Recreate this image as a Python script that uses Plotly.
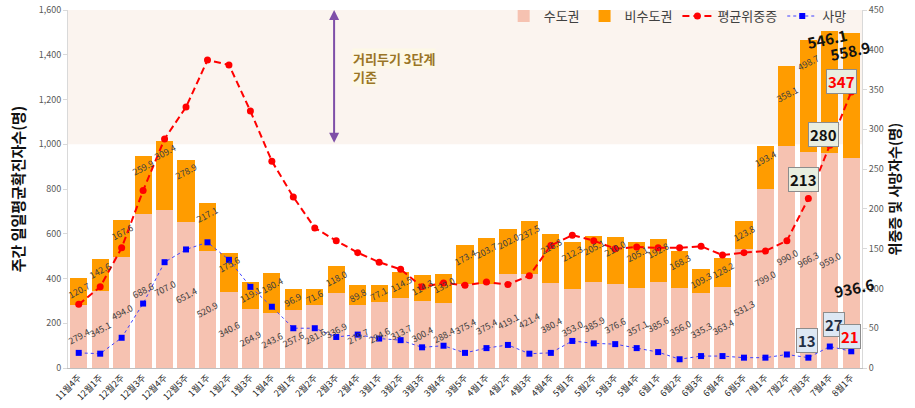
import plotly.graph_objects as go

weeks = ["11월4주", "12월1주", "12월2주", "12월3주", "12월4주", "12월5주",
         "1월1주", "1월2주", "1월3주", "1월4주",
         "2월1주", "2월2주", "2월3주", "2월4주",
         "3월1주", "3월2주", "3월3주", "3월4주", "3월5주",
         "4월1주", "4월2주", "4월3주", "4월4주",
         "5월1주", "5월2주", "5월3주", "5월4주",
         "6월1주", "6월2주", "6월3주", "6월4주", "6월5주",
         "7월1주", "7월2주", "7월3주", "7월4주", "8월1주"]

capital = [279.4, 345.1, 494.0, 688.6, 707.0, 651.4, 520.9, 340.6, 264.9, 243.6,
           257.6, 281.6, 336.9, 279.7, 294.6, 313.7, 300.4, 288.4, 375.4,
           375.4, 419.1, 421.4, 380.4, 353.0, 385.9, 376.6, 357.1,
           385.6, 356.0, 335.3, 363.4, 531.3, 799.0, 990.0, 966.3, 959.0, 936.6]

non_capital = [120.7, 142.6, 167.6, 259.9, 309.4, 278.9, 217.1, 175.6, 119.1, 180.4,
               96.9, 71.6, 118.0, 89.8, 77.1, 114.5, 114.3, 133.0, 173.4,
               203.7, 202.0, 237.5, 216.8, 212.3, 205.1, 210.0, 205.1,
               192.8, 168.3, 109.3, 128.2, 123.8, 193.4, 358.1, 498.7, 546.1, 558.9]

severe = [80, 102, 151, 223, 288, 328, 387, 381, 323, 260, 215, 176, 160, 145,
          133, 124, 102, 107, 104, 108, 105, 116, 154, 167, 160, 150, 152,
          151, 151, 153, 142, 145, 147, 160, 213, 280, 347]

deaths = [19, 18, 38, 81, 133, 149, 158, 136, 102, 77, 50, 50, 39, 42,
          37, 35, 26, 28, 19, 25, 29, 18, 19, 34, 31, 30, 25, 20,
          11, 15, 15, 13, 13, 17, 13, 27, 21]

FONT = "Noto Sans CJK KR"
PINK = "#F6C2B1"
ORANGE = "#FF9C00"

fig = go.Figure()

fig.add_trace(go.Bar(x=weeks, y=capital, name="수도권", marker_color=PINK,
                     marker_line_width=0, yaxis="y"))
fig.add_trace(go.Bar(x=weeks, y=non_capital, name="비수도권", marker_color=ORANGE,
                     marker_line_width=0, yaxis="y"))
fig.add_trace(go.Scatter(x=weeks, y=severe, name="평균위중증", mode="lines+markers",
                         line=dict(color="#FF0000", width=2, dash="7px,4px"),
                         marker=dict(symbol="circle", size=7, color="#FF0000"),
                         yaxis="y2"))
fig.add_trace(go.Scatter(x=weeks, y=deaths, name="사망", mode="lines+markers",
                         line=dict(color="#4040FF", width=1, dash="dot"),
                         marker=dict(symbol="square", size=6, color="#0000FF"),
                         yaxis="y2"))

annotations = []
n = len(weeks)
small_font = dict(family=FONT, size=9, color="#404040")

# capital (수도권) labels centered in bar
for i in range(n):
    if i == n - 1:
        continue
    annotations.append(dict(x=weeks[i], y=capital[i] / 2, xref="x", yref="y",
                            text=f"{capital[i]:.1f}", showarrow=False,
                            textangle=-28, font=small_font))

# non-capital (비수도권) labels near top of orange segment
label_override = {33: 0.65, 34: 0.8}
for i in range(n):
    if i >= n - 2:
        continue
    top = capital[i] + non_capital[i]
    if i in label_override:
        y = capital[i] + non_capital[i] * label_override[i]
    else:
        y = max(capital[i] + non_capital[i] / 2, top - 54)
    annotations.append(dict(x=weeks[i], y=y, xref="x", yref="y",
                            text=f"{non_capital[i]:.1f}", showarrow=False,
                            textangle=-28, font=small_font))

big_font = dict(family=FONT, size=15, color="#111111")
annotations.append(dict(x=weeks[n - 2], y=capital[n - 2] + non_capital[n - 2], xref="x", yref="y",
                        text=f"<b>{non_capital[n - 2]:.1f}</b>", showarrow=False,
                        textangle=-12, font=big_font, xshift=-3, yshift=-7))
annotations.append(dict(x=weeks[n - 1], y=capital[n - 1] + non_capital[n - 1], xref="x", yref="y",
                        text=f"<b>{non_capital[n - 1]:.1f}</b>", showarrow=False,
                        textangle=-12, font=big_font, xshift=-1, yshift=-17))
annotations.append(dict(x=weeks[n - 1], y=capital[n - 1] / 2, xref="x", yref="y",
                        text=f"<b>{capital[n - 1]:.1f}</b>", showarrow=False,
                        textangle=-12, font=big_font, xshift=3, yshift=-24))

# boxed callouts
box_sev = "#E9EEE0"
box_dth = "#DDE8F4"
for idx, xs, ys, col in [(n - 3, -5, 19, "#111111"), (n - 2, -6, 11, "#111111"), (n - 1, -10, 10, "#FF0000")]:
    annotations.append(dict(x=weeks[idx], y=severe[idx], xref="x", yref="y2",
                            text=f"<b>{severe[idx]}</b>", showarrow=False,
                            font=dict(family=FONT, size=15, color=col),
                            bgcolor=box_sev, bordercolor="#8C8C8C", borderwidth=1,
                            borderpad=1, xshift=xs, yshift=ys))
for idx, xs, ys, col in [(n - 3, -1, 17, "#1F2D44"), (n - 2, 4, 22, "#1F2D44"), (n - 1, -1, 15, "#FF0000")]:
    annotations.append(dict(x=weeks[idx], y=deaths[idx], xref="x", yref="y2",
                            text=f"<b>{deaths[idx]}</b>", showarrow=False,
                            font=dict(family=FONT, size=15, color=col),
                            bgcolor=box_dth, bordercolor="#8C8C8C", borderwidth=1,
                            borderpad=1, xshift=xs, yshift=ys))

# threshold arrow
arrow_x = 11.9
annotations.append(dict(x=arrow_x, y=1600, ax=arrow_x, ay=1000, xref="x", yref="y",
                        axref="x", ayref="y", showarrow=True, arrowhead=2,
                        arrowside="end+start", arrowsize=1, arrowwidth=2,
                        arrowcolor="#7E4FA8", text=""))
for txt, yv in [("<b>거리두기 3단계</b>", 1385), ("<b>기준</b>", 1303)]:
    annotations.append(dict(x=12.75, y=yv, xref="x", yref="y", xanchor="left",
                            text=txt, showarrow=False, align="left",
                            font=dict(family=FONT, size=13, color="#9A7526"),
                            bgcolor="#FDF8E6", borderpad=0))

shapes = [dict(type="rect", xref="x domain", yref="y", x0=0, x1=1, y0=1000, y1=1600,
               fillcolor="#FBF4EF", line_width=0, layer="below")]

fig.update_layout(
    width=915, height=408,
    margin=dict(l=68, r=53, t=10, b=40, autoexpand=False),
    barmode="stack", bargap=0.2,
    plot_bgcolor="white", paper_bgcolor="white",
    font=dict(family=FONT, color="#404040"),
    showlegend=True,
    legend=dict(orientation="h", x=0.987, xanchor="right", y=1.025, yanchor="top",
                bgcolor="rgba(0,0,0,0)", font=dict(family=FONT, size=13, color="#404040"),
                itemwidth=30, traceorder="normal"),
    xaxis=dict(type="category", range=[-0.5, n - 0.5], autorange=False, automargin=False,
               tickangle=-45, tickfont=dict(size=9, color="#262626"),
               showline=True, linecolor="#BFBFBF", showgrid=False, ticks=""),
    yaxis=dict(range=[0, 1600], autorange=False, automargin=False, dtick=200, tickformat=",",
               showgrid=False, showline=True, linecolor="#D9D9D9", ticks="outside", ticklen=4,
               tickcolor="#D9D9D9", tickfont=dict(size=9, color="#595959"),
               title=dict(text="<b>주간 일일평균확진자수(명)</b>",
                          font=dict(family=FONT, size=15, color="#111111"), standoff=10)),
    yaxis2=dict(range=[0, 450], autorange=False, automargin=False, dtick=50, overlaying="y",
                side="right", showgrid=False,
                showline=True, linecolor="#D9D9D9", ticks="outside", ticklen=4,
                tickcolor="#D9D9D9", tickfont=dict(size=9, color="#595959"),
                title=dict(text="<b>위중증 및 사망자수(명)</b>",
                           font=dict(family=FONT, size=14, color="#111111"), standoff=4)),
    annotations=annotations,
    shapes=shapes,
)

fig.write_html("out.html", config={"displayModeBar": False},
               post_script="document.body.style.margin='0';document.body.style.overflow='hidden';")
